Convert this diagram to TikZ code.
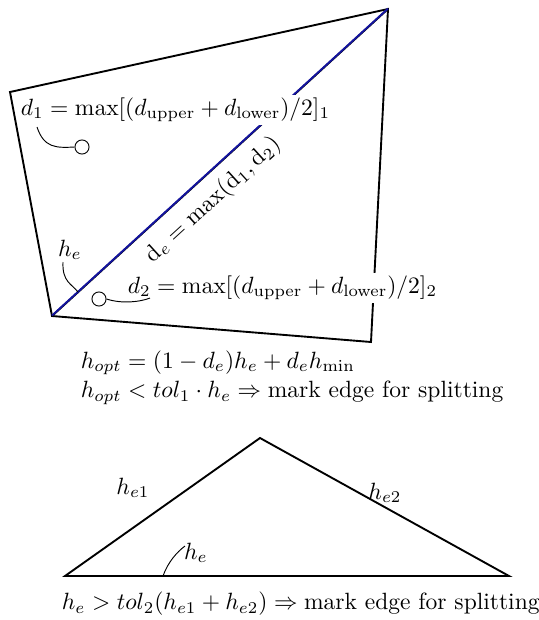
\documentclass[tikz,border=0pt]{standalone}
\usepackage{amsmath}
\begin{document}
\begin{tikzpicture}[x=0.425pt,y=-0.425pt,
  edge/.style={line width=0.8pt,line join=miter},
  diagline/.style={line width=0.8pt,draw={rgb,255:red,20;green,20;blue,160}},
  lead/.style={line width=0.4pt},
  ring/.style={circle,draw,line width=0.4pt,inner sep=0pt,minimum size=6pt},
  lbl/.style={inner sep=1pt},
  wlbl/.style={inner sep=1pt,fill=white}]
\useasboundingbox (0,0) rectangle (539,620);
% quadrilateral
\coordinate (A) at (10,92);
\coordinate (B) at (388,9);
\coordinate (C) at (371,342);
\coordinate (D) at (52,316);
\draw[edge] (A) -- (B) -- (C) -- (D) -- cycle;
\draw[edge] (D) -- (B);
\draw[diagline] ([yshift=0.2pt]D) -- ([yshift=0.2pt]B);
% labels in quadrilateral
\node[wlbl,anchor=west] (d1) at (18,110) {$d_1 = \max[(d_{\text{upper}} + d_{\text{lower}})/2]_1$};
\node[wlbl,anchor=west] (d2) at (125,288) {$d_2 = \max[(d_{\text{upper}} + d_{\text{lower}})/2]_2$};
\node[lbl,rotate=42.4] (de) at (213,200) {$\mathrm{d}_e = \max(\mathrm{d}_1, \mathrm{d}_2)$};
\node[ring] (c1) at (82,147) {};
\node[ring] (c2) at (99,299) {};
\coordinate (d1end) at (37,127);
\draw[lead] (d1end) .. controls (44,148) and (56,148) .. (c1.west);
\coordinate (d2end) at (150,298);
\draw[lead] (c2.east) .. controls (122,304) and (140,302) .. (d2end);
\node[lbl] (he) at (70,250) {$h_e$};
\coordinate (hestart) at (63,262);
\coordinate (heend) at (78,292);
\draw[lead] (hestart) .. controls (62,282) and (72,284) .. (heend);
% formulas
\node[lbl,anchor=west] (f1) at (78,363) {$h_{opt} = (1 - d_e)h_e + d_e h_{\min}$};
\node[lbl,anchor=west] (f2) at (78,393) {$h_{opt} < tol_1 \cdot h_e \Rightarrow \text{mark edge for splitting}$};
% triangle
\coordinate (E) at (65,576);
\coordinate (F) at (260,438);
\coordinate (G) at (509,576);
\draw[edge] (E) -- (F) -- (G) -- cycle;
\node[lbl] (he1) at (133,488) {$h_{e1}$};
\node[lbl] (he2) at (385,493) {$h_{e2}$};
\node[lbl] (heb) at (196,553) {$h_e$};
\coordinate (hbstart) at (163,576);
\coordinate (hbend) at (185,546);
\draw[lead] (hbstart) .. controls (168,562) and (177,552) .. (hbend);
\node[lbl,anchor=west] (f3) at (59,604) {$h_e > tol_2(h_{e1} + h_{e2}) \Rightarrow \text{mark edge for splitting}$};
\end{tikzpicture}
\end{document}
